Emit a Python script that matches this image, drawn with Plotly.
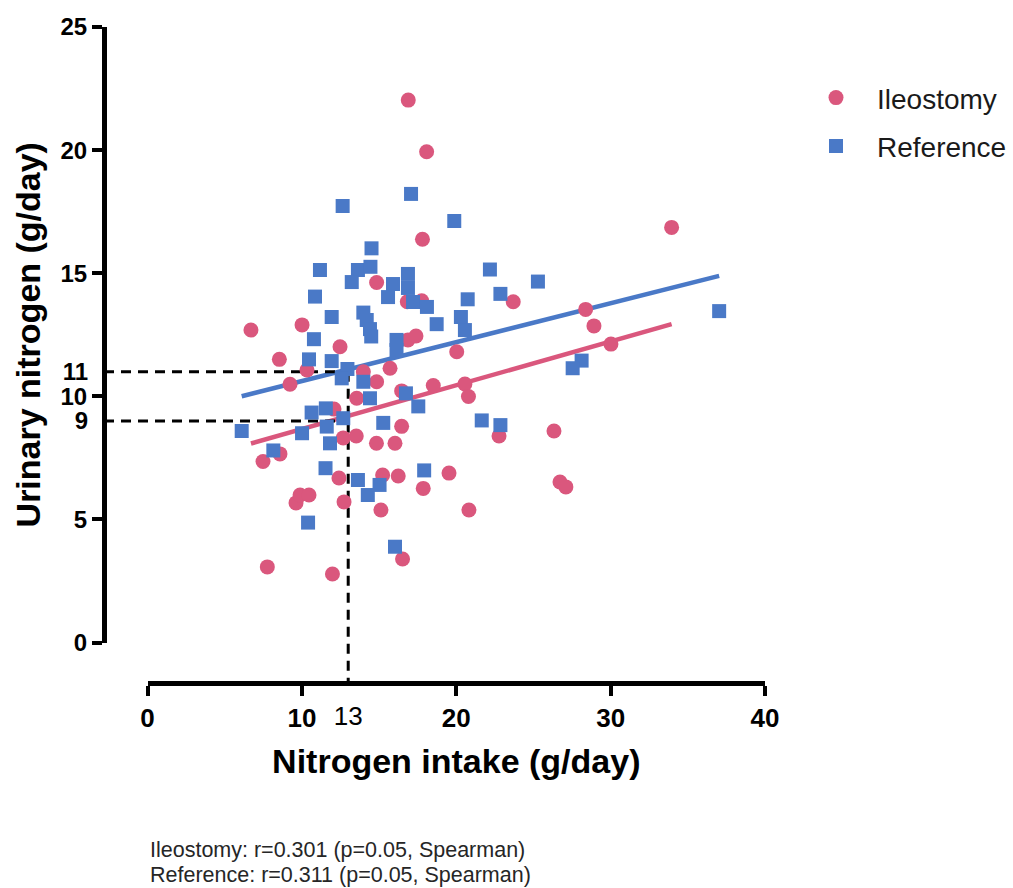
import plotly.graph_objects as go

# Ileostomy group: nitrogen intake (g/day) vs urinary nitrogen (g/day)
ileo_intake = [16.89, 18.08, 33.95, 17.81, 14.84, 6.70, 10.01, 16.83, 17.76, 23.69,
               28.38, 28.92, 30.02, 12.47, 16.87, 17.39, 20.03, 8.54, 10.33, 13.98,
               15.71, 14.84, 9.23, 16.46, 18.51, 20.56, 20.79, 13.55, 12.08, 16.46,
               12.68, 13.52, 14.83, 16.03, 22.77, 26.33, 7.48, 8.58, 12.40, 15.23,
               16.24, 19.53, 17.86, 26.72, 27.10, 9.62, 9.88, 10.46, 12.73, 15.12,
               20.82, 16.52, 7.76, 11.98]
ileo_urinary = [22.03, 19.93, 16.86, 16.38, 14.62, 12.69, 12.90, 13.84, 13.88, 13.84,
                13.53, 12.86, 12.12, 12.01, 12.29, 12.45, 11.81, 11.50, 11.07, 11.00,
                11.14, 10.59, 10.49, 10.22, 10.44, 10.50, 9.99, 9.92, 9.48, 8.78,
                8.31, 8.39, 8.09, 8.09, 8.39, 8.59, 7.35, 7.66, 6.68, 6.80,
                6.76, 6.88, 6.26, 6.52, 6.32, 5.67, 5.99, 5.99, 5.71, 5.38,
                5.38, 3.39, 3.07, 2.78]

# Reference group
ref_intake = [17.07, 12.64, 19.87, 14.51, 11.17, 13.63, 14.44, 13.23, 16.87, 15.90,
              16.87, 15.58, 17.20, 18.10, 22.18, 25.29, 22.86, 20.74, 10.85, 11.93,
              13.98, 14.20, 14.41, 14.49, 18.73, 20.30, 20.56, 10.78, 16.13, 16.13,
              10.46, 11.93, 12.95, 12.58, 13.98, 14.41, 16.74, 17.54, 10.63, 11.55,
              12.68, 11.61, 6.10, 10.01, 11.82, 8.15, 15.27, 21.65, 22.86, 11.53,
              13.63, 14.27, 15.03, 17.92, 10.40, 16.03, 37.03, 28.12, 27.54]
ref_urinary = [18.22, 17.73, 17.12, 16.01, 15.13, 15.13, 15.26, 14.64, 14.97, 14.56,
               14.40, 14.03, 13.83, 13.63, 15.15, 14.66, 14.16, 13.94, 14.05, 13.22,
               13.40, 13.10, 12.73, 12.43, 12.93, 13.22, 12.69, 12.32, 12.29, 11.88,
               11.50, 11.43, 11.11, 10.73, 10.59, 9.92, 10.12, 9.59, 9.34, 9.51,
               9.11, 8.77, 8.59, 8.50, 8.09, 7.80, 8.92, 9.02, 8.83, 7.08,
               6.60, 5.99, 6.40, 6.99, 4.87, 3.89, 13.46, 11.45, 11.14]

# Linear fits (slope, intercept)
ileo_fit = (0.178, 6.89)
ref_fit = (0.158, 9.04)

# Marked cut-off: intake of 13 g/day maps to 9 and 11 g/day urinary nitrogen
cut_intake = 13
cut_urinary = [9, 11]

x_ticks = [0, 10, 20, 30, 40]
y_ticks = [0, 5, 10, 15, 20, 25]

footnotes = ["Ileostomy: r=0.301 (p=0.05, Spearman)",
             "Reference: r=0.311 (p=0.05, Spearman)"]

PINK = "#DA577D"
BLUE = "#4A79C7"
FONT = "Arial, Liberation Sans, sans-serif"

# The axes are offset from the data area: the y axis sits left of x=0,
# the x axis sits below y=0.
X_LO, X_HI = -2.82, 40.0
Y_LO, Y_HI = -1.645, 25.0

fig = go.Figure()


def fit_line(fit, xs):
    a, b = fit
    x0, x1 = min(xs), max(xs)
    return [x0, x1], [a * x0 + b, a * x1 + b]


for fit, xs, color in [(ileo_fit, ileo_intake, PINK), (ref_fit, ref_intake, BLUE)]:
    fx, fy = fit_line(fit, xs)
    fig.add_trace(go.Scatter(x=fx, y=fy, mode="lines", showlegend=False,
                             line=dict(color=color, width=4.5), hoverinfo="skip"))

# dashed guides from the axes to the cut-off point
for yv in cut_urinary:
    fig.add_trace(go.Scatter(x=[X_LO, cut_intake], y=[yv, yv], mode="lines",
                             showlegend=False, hoverinfo="skip",
                             line=dict(color="black", width=3, dash="10px,7px")))
fig.add_trace(go.Scatter(x=[cut_intake, cut_intake], y=[max(cut_urinary), Y_LO],
                         mode="lines", showlegend=False, hoverinfo="skip",
                         line=dict(color="black", width=3, dash="10px,7px")))

fig.add_trace(go.Scatter(x=ileo_intake, y=ileo_urinary, mode="markers", name="Ileostomy",
                         legendgroup="a", cliponaxis=False,
                         marker=dict(symbol="circle", size=15, color=PINK)))
fig.add_trace(go.Scatter(x=ref_intake, y=ref_urinary, mode="markers", name="Reference",
                         legendgroup="b", cliponaxis=False,
                         marker=dict(symbol="square", size=14, color=BLUE)))

# empty trace so the display axes get their own subplot
fig.add_trace(go.Scatter(x=[], y=[], xaxis="x2", yaxis="y2", showlegend=False))

y_tick_font = dict(family=FONT, size=24, color="black", weight="bold")
x_tick_font = dict(family=FONT, size=26, color="black", weight="bold")

fig.update_layout(
    width=1013, height=888,
    margin=dict(l=104, r=248, t=27, b=205, autoexpand=False),
    paper_bgcolor="white", plot_bgcolor="rgba(0,0,0,0)",
    showlegend=True,
    legend=dict(x=(795 - 104) / 661, y=0.93, xanchor="left", yanchor="top",
                font=dict(family=FONT, size=28, color="#1a1a1a"),
                tracegroupgap=9, itemwidth=72, bgcolor="rgba(0,0,0,0)"),
    # data axes: only carry the cut-off labels
    xaxis=dict(range=[X_LO, X_HI], showgrid=False, zeroline=False, showline=False,
               tickvals=[cut_intake], ticktext=[str(cut_intake)],
               ticks="outside", ticklen=10, tickcolor="rgba(0,0,0,0)",
               tickfont=dict(family=FONT, size=26, color="black")),
    yaxis=dict(range=[Y_LO, Y_HI], showgrid=False, zeroline=False, showline=False,
               tickvals=cut_urinary, ticktext=[str(v) for v in cut_urinary],
               ticks="outside", ticklen=10, tickcolor="rgba(0,0,0,0)",
               tickfont=y_tick_font),
    # display axes starting at zero
    xaxis2=dict(domain=[(0 - X_LO) / (X_HI - X_LO), 1], range=[0, 40],
                anchor="free", position=0, showgrid=False, zeroline=False,
                showline=True, linewidth=5, linecolor="black",
                tickvals=x_ticks, ticks="outside", ticklen=10, tickwidth=3.5,
                tickcolor="black", tickfont=x_tick_font,
                title=dict(text="Nitrogen intake (g/day)", standoff=16,
                           font=dict(family=FONT, size=34, color="black", weight="bold"))),
    yaxis2=dict(domain=[(0 - Y_LO) / (Y_HI - Y_LO), 1], range=[0, 25],
                anchor="free", position=0, showgrid=False, zeroline=False,
                showline=True, linewidth=5, linecolor="black",
                tickvals=y_ticks, ticks="outside", ticklen=10, tickwidth=3.5,
                tickcolor="black", tickfont=y_tick_font,
                title=dict(text="Urinary nitrogen (g/day)", standoff=8,
                           font=dict(family=FONT, size=34, color="black", weight="bold"))),
)

for i, txt in enumerate(footnotes):
    fig.add_annotation(text=txt, xref="paper", yref="paper",
                       x=(148 - 104) / 661, y=-0.2546 - i * 0.038,
                       xanchor="left", yanchor="middle", showarrow=False,
                       font=dict(family=FONT, size=21.5, color="#262626"))

fig.write_html("out.html")
